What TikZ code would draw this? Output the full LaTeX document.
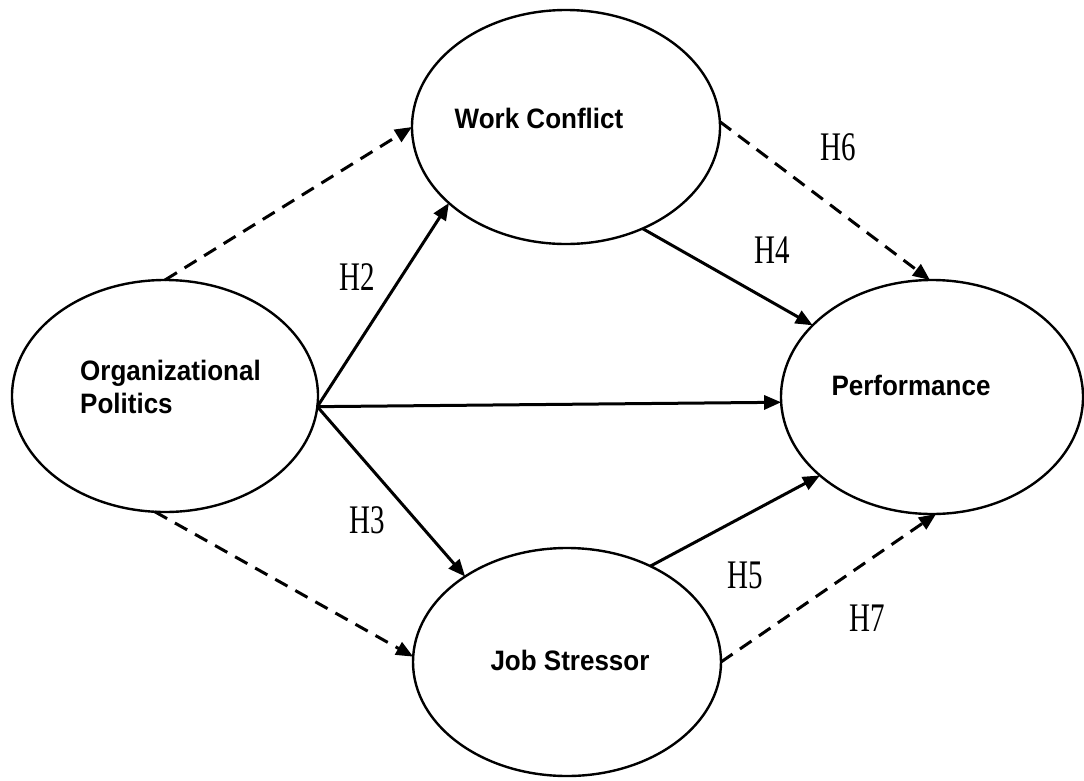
\documentclass[tikz,border=0pt]{standalone}
\usepackage{fontspec}
\setmainfont{Liberation Serif}
\setsansfont{Liberation Sans}
\usetikzlibrary{shapes.geometric,arrows.meta}
\begin{document}
\begin{tikzpicture}[x=1pt,y=-1pt,
  constr/.style={draw,ellipse,line width=2.4pt,inner sep=0pt,outer sep=0pt},
  ctext/.style={font=\sffamily\bfseries\fontsize{26}{33}\selectfont,inner sep=0pt},
  hlab/.style={font=\fontsize{29}{30}\selectfont,inner sep=0pt},
  path/.style={line width=3pt,-{Triangle[length=17pt,width=14pt]}},
  dpath/.style={path,dash pattern=on 14pt off 9pt}
]
\useasboundingbox (0,0) rectangle (1084,780);
\node[constr,minimum width=306pt,minimum height=232pt] (org) at (165,396) {};
\node[constr,minimum width=308pt,minimum height=234pt] (wc) at (566,127) {};
\node[constr,minimum width=302pt,minimum height=234pt] (perf) at (932,397) {};
\node[constr,minimum width=308pt,minimum height=228pt] (js) at (567,662) {};

\node[ctext,anchor=west,align=left] (orgt) at (80,387) {\scalebox{1}[1.08]{Organizational}\\\scalebox{1}[1.08]{Politics}};
\node[ctext] (wct) at (539,118) {\scalebox{1}[1.08]{Work Conflict}};
\node[ctext] (perft) at (911,385) {\scalebox{1}[1.08]{Performance}};
\node[ctext] (jst) at (570,660) {\scalebox{1}[1.08]{Job Stressor}};

\draw[dpath] (org.90) -- (wc.180);
\draw[path] (org.-4) -- (wc.213);
\draw[path] (org.-4) -- (perf.182);
\draw[path] (org.-4) -- (js.140);
\draw[dpath] (org.-95) -- (js.178);
\draw[path] (wc.-53) -- (perf.149);
\draw[dpath] (wc.2) -- (perf.91);
\draw[path] (js.49) -- (perf.215);
\draw[dpath] (js.0) -- (perf.-88);

\node[hlab] (h2) at (357,277) {\scalebox{1}[1.4]{H2}};
\node[hlab] (h3) at (367,520) {\scalebox{1}[1.4]{H3}};
\node[hlab] (h4) at (772,250) {\scalebox{1}[1.4]{H4}};
\node[hlab] (h5) at (745,575) {\scalebox{1}[1.4]{H5}};
\node[hlab] (h6) at (838,147) {\scalebox{1}[1.4]{H6}};
\node[hlab] (h7) at (867,618) {\scalebox{1}[1.4]{H7}};
\end{tikzpicture}
\end{document}
